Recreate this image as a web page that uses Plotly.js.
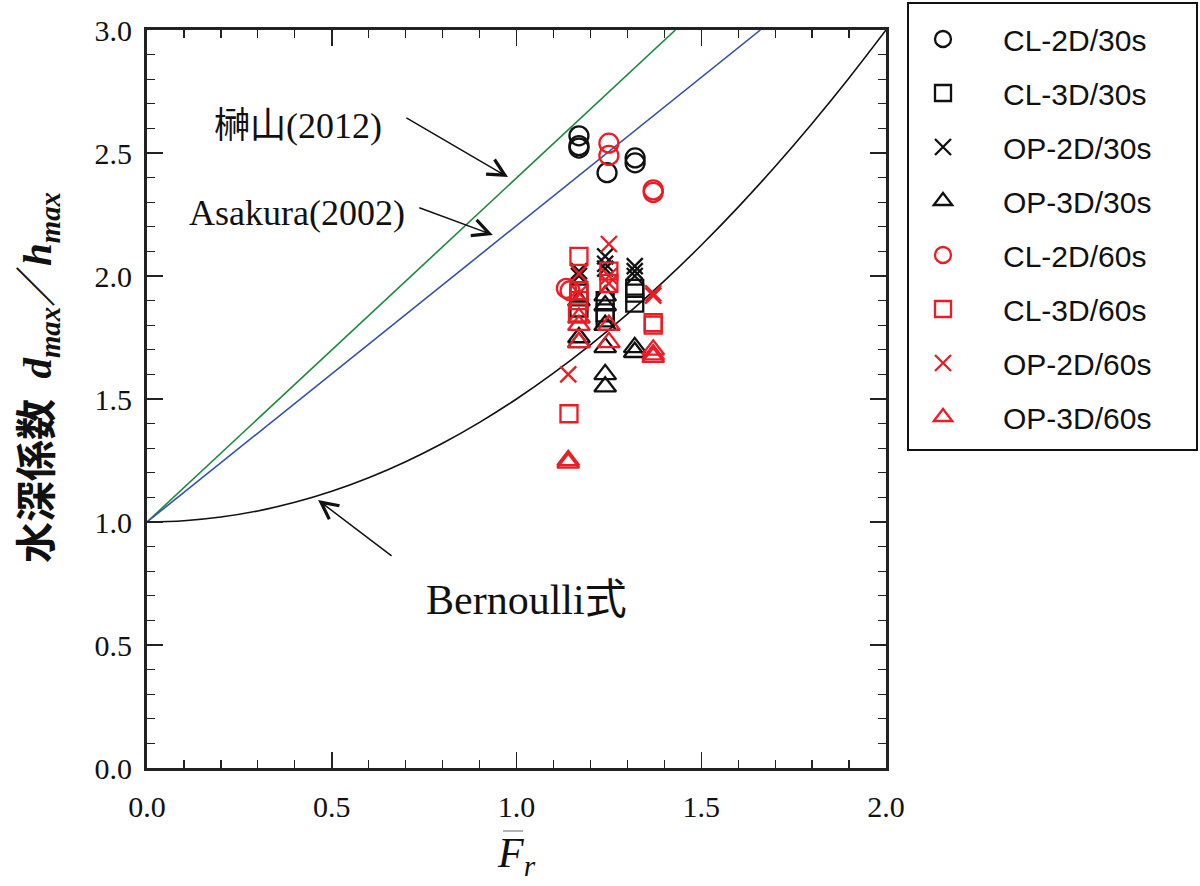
<!DOCTYPE html>
<html><head><meta charset="utf-8">
<script src="https://cdn.plot.ly/plotly-3.0.1.min.js"></script>
<style>html,body{margin:0;padding:0;background:#fff}#chart{width:1200px;height:886px}</style>
</head><body><div id="chart"></div>
<script>
// Reference curves
const bernoulliFr = [0,0.1,0.2,0.3,0.4,0.5,0.6,0.7,0.8,0.9,1.0,1.1,1.2,1.3,1.4,1.5,1.6,1.7,1.8,1.9,2.0];
const bernoulliY  = [1.000,1.005,1.020,1.045,1.080,1.125,1.180,1.245,1.320,1.405,1.500,1.605,1.720,1.845,1.980,2.125,2.280,2.445,2.620,2.805,3.000];
const asakuraFr = [0, 1.66];
const asakuraY  = [1.0, 3.0];
const sakakiFr  = [0, 1.43];
const sakakiY   = [1.0, 3.0];

// Measured data
const cl2d30x = [1.169,1.169,1.169,1.245,1.321,1.321];
const cl2d30y = [2.57,2.53,2.52,2.42,2.48,2.46];
const cl3d30x = [1.169,1.169,1.24,1.24,1.24,1.32,1.32,1.32];
const cl3d30y = [1.93,1.87,1.90,1.85,1.83,1.95,1.93,1.89];
const op2d30x = [1.169,1.169,1.24,1.24,1.24,1.32,1.32,1.32];
const op2d30y = [2.02,2.00,2.08,2.05,2.03,2.04,2.02,2.00];
const op3d30x = [1.169,1.169,1.169,1.24,1.24,1.24,1.24,1.24,1.24,1.32,1.32];
const op3d30y = [1.90,1.75,1.73,1.92,1.88,1.80,1.71,1.60,1.55,1.71,1.69];
const cl2d60x = [1.25,1.25,1.37,1.37,1.135,1.145];
const cl2d60y = [2.54,2.49,2.35,2.34,1.95,1.94];
const cl3d60x = [1.169,1.169,1.169,1.165,1.25,1.25,1.37,1.37,1.142];
const cl3d60y = [2.08,1.94,1.90,1.85,2.02,1.97,1.80,1.81,1.44];
const op2d60x = [1.14,1.169,1.169,1.25,1.25,1.25,1.37,1.37];
const op2d60y = [1.60,2.01,1.93,2.13,2.00,1.97,1.93,1.92];
const op3d60x = [1.14,1.14,1.169,1.169,1.169,1.25,1.25,1.37,1.37,1.37];
const op3d60y = [1.25,1.24,1.83,1.80,1.73,1.80,1.73,1.70,1.68,1.67];

const seriesNames = ['CL-2D/30s','CL-3D/30s','OP-2D/30s','OP-3D/30s','CL-2D/60s','CL-3D/60s','OP-2D/60s','OP-3D/60s'];
const seriesX = [cl2d30x,cl3d30x,op2d30x,op3d30x,cl2d60x,cl3d60x,op2d60x,op3d60x];
const seriesY = [cl2d30y,cl3d30y,op2d30y,op3d30y,cl2d60y,cl3d60y,op2d60y,op3d60y];

const BLACK = '#111111', RED = '#ec1c24';
const symbols = ['circle-open','square-open','x-thin-open','triangle-up-open','circle-open','square-open','x-thin-open','triangle-up-open'];
const sizes = [19,17,16,19,19,17,16,19];
const colors = [BLACK,BLACK,BLACK,BLACK,RED,RED,RED,RED];

const traces = [
  {x: sakakiFr, y: sakakiY, mode:'lines', line:{color:'#1a8a3e', width:1.6}, showlegend:false, hoverinfo:'skip'},
  {x: asakuraFr, y: asakuraY, mode:'lines', line:{color:'#3352a8', width:1.6}, showlegend:false, hoverinfo:'skip'},
  {x: bernoulliFr, y: bernoulliY, mode:'lines', line:{color:'#111', width:1.6, shape:'spline'}, showlegend:false, hoverinfo:'skip'}
];
for (let i=0;i<seriesNames.length;i++){
  traces.push({
    x: seriesX[i], y: seriesY[i], name: seriesNames[i], mode:'markers', type:'scatter',
    legendgroup: 'g'+i,
    marker:{symbol: symbols[i], size: sizes[i], color: colors[i], line:{color: colors[i], width:2.3}}
  });
}

const serif = '"Liberation Serif", "Times New Roman", serif';
const px = v => (v-147)/739, py = v => (768-v)/738;

const axisCommon = {
  showgrid:false, zeroline:false, showline:true, linecolor:'#222', linewidth:3,
  mirror:'allticks', ticks:'inside', ticklen:16, tickwidth:1.5, tickcolor:'#222',
  tickfont:{family: serif, size:30, color:'#111'}, tickformat:'.1f', dtick:0.5,
  minor:{ticks:'inside', ticklen:8, tickwidth:1.2, tickcolor:'#222', dtick:0.1, showgrid:false}
};

const layout = {
  width:1200, height:886,
  margin:{l:147, r:314, t:30, b:118},
  paper_bgcolor:'#fff', plot_bgcolor:'#fff',
  xaxis: Object.assign({}, axisCommon, {range:[0,2], ticklabelstandoff:10}),
  yaxis: Object.assign({}, axisCommon, {range:[0,3], ticklabelstandoff:6}),
  showlegend:true,
  legend:{x: px(883), y: py(13), xanchor:'left', yanchor:'top', bgcolor:'rgba(0,0,0,0)',
    borderwidth:0, font:{family:'"Liberation Sans", Arial, sans-serif', size:30, color:'#111'},
    traceorder:'grouped', tracegroupgap:12, itemwidth:110, itemsizing:'trace'},
  shapes:[
    {type:'rect', xref:'paper', yref:'paper', x0:px(908), x1:px(1197), y0:py(3), y1:py(450),
     line:{color:'#111', width:2}},
    {type:'line', xref:'paper', yref:'paper', x0:px(503), x1:px(523), y0:py(831), y1:py(831),
     line:{color:'#999', width:1.5}}
  ],
  annotations:[
    {xref:'x', yref:'y', x:0.409, y:2.626, text:'<span style="font-family:Noto Sans CJK JP">榊山</span>(2012)', showarrow:false,
     font:{family: serif, size:36, color:'#111'}},
    {xref:'x', yref:'y', x:0.977, y:2.402, ax:0.698, ay:2.646, axref:'x', ayref:'y', text:'', showarrow:true,
     arrowhead:5, arrowsize:2.2, arrowwidth:1.5, arrowcolor:'#111'},
    {xref:'x', yref:'y', x:0.407, y:2.256, text:'Asakura(2002)', showarrow:false,
     font:{family: serif, size:36, color:'#111'}},
    {xref:'x', yref:'y', x:0.936, y:2.167, ax:0.733, ay:2.280, axref:'x', ayref:'y', text:'', showarrow:true,
     arrowhead:5, arrowsize:2.2, arrowwidth:1.5, arrowcolor:'#111'},
    {xref:'x', yref:'y', x:1.028, y:0.703, text:'Bernoulli<span style="font-family:Noto Sans CJK JP">式</span>', showarrow:false,
     font:{family: serif, size:42, color:'#111'}},
    {xref:'x', yref:'y', x:0.463, y:1.089, ax:0.666, ay:0.858, axref:'x', ayref:'y', text:'', showarrow:true,
     arrowhead:5, arrowsize:2.2, arrowwidth:1.5, arrowcolor:'#111'},
    {xref:'paper', yref:'paper', x:px(34), y:py(378), xanchor:'center', yanchor:'middle', textangle:-90, showarrow:false,
     text:'<b><span style="font-family:Noto Sans CJK JP">水深係数</span>  <i>d<sub>max</sub></i><span style="font-family:Noto Sans CJK JP">／</span><i>h<sub>max</sub></i></b>',
     font:{family: serif, size:41, color:'#111'}},
    {xref:'paper', yref:'paper', x:px(516), y:py(856), xanchor:'center', yanchor:'middle', showarrow:false,
     text:'<i>F<sub>r</sub></i>', font:{family: serif, size:42, color:'#111'}}
  ]
};

Plotly.newPlot('chart', traces, layout, {displayModeBar:false, staticPlot:true});
</script></body></html>
